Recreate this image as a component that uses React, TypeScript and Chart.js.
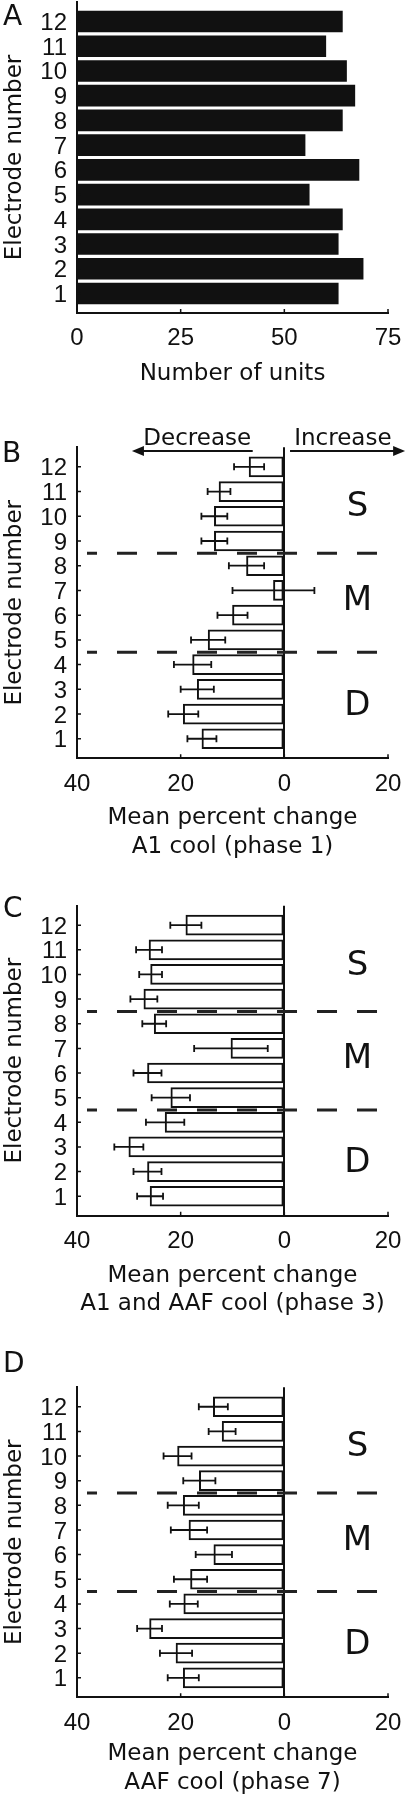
import React, { useEffect, useRef } from "react";
import { Chart, registerables } from "chart.js";

Chart.register(...registerables);

// ---------- data ----------
const electrodes = [1, 2, 3, 4, 5, 6, 7, 8, 9, 10, 11, 12];
const unitCounts = [63, 69, 63, 64, 56, 68, 55, 64, 67, 65, 60, 64];

const a1CoolChange = [-15.9, -19.5, -16.8, -17.7, -14.7, -10.0, -2.1, -7.3, -13.5, -13.5, -12.6, -6.8];
const a1CoolError = [2.8, 2.9, 3.2, 3.6, 3.3, 2.9, 7.9, 3.4, 2.5, 2.5, 2.2, 2.9];

const a1AafCoolChange = [-25.9, -26.4, -30.0, -23.0, -21.9, -26.4, -10.3, -25.1, -27.1, -25.8, -26.1, -19.0];
const a1AafCoolError = [2.5, 2.7, 2.8, 3.7, 3.7, 2.7, 7.1, 2.3, 2.6, 2.2, 2.5, 3.0];

const aafCoolChange = [-19.5, -20.9, -26.0, -19.4, -18.1, -13.6, -18.4, -19.5, -16.4, -20.6, -12.0, -13.7];
const aafCoolError = [3.0, 3.1, 2.4, 2.7, 3.2, 3.5, 3.5, 3.0, 3.1, 2.7, 2.6, 2.8];

const unitTicks = [0, 25, 50, 75];
const changeTicks = [-40, -20, 0, 20];
const regionBoundaries = [4.5, 8.5];
const regionLabels = ["D", "M", "S"];
const regionCenters = [2.47, 6.71, 10.5];
const regionLabelX = 14.1;
const decreaseArrow = [-6.1, -29.4];
const increaseArrow = [1.1, 23.3];
const decreaseTextX = -16.8;
const increaseTextX = 11.3;

// ---------- styles ----------
const INK = "#111";
const TICK_FAMILY = "'Liberation Sans', Arial, Helvetica, sans-serif";
const TITLE_FAMILY = "'DejaVu Sans', sans-serif";
const TICK_FONT = { family: TICK_FAMILY, size: 24 };
const TITLE_FONT = { family: TITLE_FAMILY, size: 23, lineHeight: 1.25 };
const YTITLE_FONT = { family: TITLE_FAMILY, size: 23, lineHeight: 1.2 };

type PanelDef = {
  letter: string;
  top: number;
  height: number;
  padTop: number;
  padBottom: number;
  xHeight: number;
  letterX: number;
  letterDy: number;
  values: number[];
  errors?: number[];
  xTicks: number[];
  title: string | string[];
  change: boolean;
  arrows?: boolean;
};

const panels: PanelDef[] = [
  {
    letter: "A", top: 0, height: 400, padTop: 2, padBottom: 11.4, xHeight: 75.6,
    letterX: 3, letterDy: 23, values: unitCounts, xTicks: unitTicks,
    title: "Number of units", change: false,
  },
  {
    letter: "B", top: 400, height: 470, padTop: 47.3, padBottom: 8.6, xHeight: 103.1,
    letterX: 2, letterDy: 14.4, values: a1CoolChange, errors: a1CoolError, xTicks: changeTicks,
    title: ["Mean percent change", "A1 cool (phase 1)"], change: true, arrows: true,
  },
  {
    letter: "C", top: 860, height: 470, padTop: 45.7, padBottom: 11.1, xHeight: 103.2,
    letterX: 3, letterDy: 11, values: a1AafCoolChange, errors: a1AafCoolError, xTicks: changeTicks,
    title: ["Mean percent change", "A1 and AAF cool (phase 3)"], change: true,
  },
  {
    letter: "D", top: 1320, height: 480, padTop: 67.3, padBottom: 2.7, xHeight: 100,
    letterX: 3, letterDy: -15.6, values: aafCoolChange, errors: aafCoolError, xTicks: changeTicks,
    title: ["Mean percent change", "AAF cool (phase 7)"], change: true,
  },
];

function annotationPlugin(def: PanelDef) {
  return {
    id: "annot" + def.letter,
    afterDatasetsDraw(chart: any) {
      const { ctx, chartArea: ca } = chart;
      const xs = chart.scales.x;
      const ys = chart.scales.y;
      ctx.save();
      ctx.strokeStyle = INK;
      ctx.fillStyle = INK;
      ctx.lineCap = "butt";

      // inward tick marks
      ctx.lineWidth = 1.5;
      ctx.beginPath();
      xs.ticks.forEach((t: any) => {
        const px = xs.getPixelForValue(t.value);
        ctx.moveTo(px, ca.bottom);
        ctx.lineTo(px, ca.bottom - 4);
      });
      ys.ticks.forEach((t: any) => {
        const py = ys.getPixelForValue(t.value);
        ctx.moveTo(ca.left, py);
        ctx.lineTo(ca.left + 4, py);
      });
      ctx.stroke();

      if (def.errors) {
        const errs = def.errors;
        ctx.lineWidth = 1.8;
        ctx.beginPath();
        electrodes.forEach((e, i) => {
          const py = ys.getPixelForValue(e);
          const x1 = xs.getPixelForValue(def.values[i] - errs[i]);
          const x2 = xs.getPixelForValue(def.values[i] + errs[i]);
          ctx.moveTo(x1, py);
          ctx.lineTo(x2, py);
          ctx.moveTo(x1, py - 3.5);
          ctx.lineTo(x1, py + 3.5);
          ctx.moveTo(x2, py - 3.5);
          ctx.lineTo(x2, py + 3.5);
        });
        ctx.stroke();

        // region boundaries
        ctx.lineWidth = 3;
        ctx.strokeStyle = "#222";
        ctx.setLineDash([20, 20]);
        ctx.lineDashOffset = 10;
        regionBoundaries.forEach((b) => {
          const py = ys.getPixelForValue(b);
          ctx.beginPath();
          ctx.moveTo(ca.left + 10, py);
          ctx.lineTo(ca.right - 10, py);
          ctx.stroke();
        });
        ctx.setLineDash([]);
        ctx.strokeStyle = INK;

        // region labels (alphabetic baseline = visual centre + half cap height)
        ctx.font = `34px ${TITLE_FAMILY}`;
        ctx.textAlign = "center";
        ctx.textBaseline = "alphabetic";
        regionLabels.forEach((l, i) => {
          ctx.fillText(l, xs.getPixelForValue(regionLabelX), ys.getPixelForValue(regionCenters[i]) + 12.4);
        });
      }

      if (def.arrows) {
        const ay = ca.top + 3.7;
        const drawArrow = (fromV: number, toV: number) => {
          const x0 = xs.getPixelForValue(fromV);
          const x1 = xs.getPixelForValue(toV);
          const dir = Math.sign(x1 - x0);
          ctx.lineWidth = 2;
          ctx.beginPath();
          ctx.moveTo(x0, ay);
          ctx.lineTo(x1 - dir * 10, ay);
          ctx.stroke();
          ctx.beginPath();
          ctx.moveTo(x1, ay);
          ctx.lineTo(x1 - dir * 12, ay - 5);
          ctx.lineTo(x1 - dir * 12, ay + 5);
          ctx.closePath();
          ctx.fill();
        };
        drawArrow(decreaseArrow[0], decreaseArrow[1]);
        drawArrow(increaseArrow[0], increaseArrow[1]);
        ctx.font = `23px ${TITLE_FAMILY}`;
        ctx.textAlign = "center";
        ctx.textBaseline = "alphabetic";
        ctx.fillText("Decrease", xs.getPixelForValue(decreaseTextX), ca.top - 2.3);
        ctx.fillText("Increase", xs.getPixelForValue(increaseTextX), ca.top - 2.3);
      }

      // panel letter
      ctx.font = `28px ${TITLE_FAMILY}`;
      ctx.textAlign = "left";
      ctx.textBaseline = "alphabetic";
      ctx.fillText(def.letter, def.letterX, ca.top + def.letterDy);
      ctx.restore();
    },
  };
}

function makeConfig(def: PanelDef): any {
  const data = electrodes.map((e, i) => ({ x: def.values[i], y: e }));
  return {
    type: "bar",
    data: {
      datasets: [
        {
          data,
          backgroundColor: def.change ? "#ffffff" : INK,
          borderColor: INK,
          borderWidth: def.change ? 2 : 0,
          borderSkipped: false,
          barThickness: def.change ? 20 : 21,
        },
      ],
    },
    options: {
      indexAxis: "y",
      responsive: false,
      animation: false,
      events: [],
      layout: { padding: { left: 0, right: 19, top: def.padTop, bottom: def.padBottom } },
      plugins: { legend: { display: false }, tooltip: { enabled: false }, title: { display: false } },
      scales: {
        x: {
          type: "linear",
          position: "bottom",
          offset: false,
          min: def.xTicks[0],
          max: def.xTicks[def.xTicks.length - 1],
          afterBuildTicks: (s: any) => {
            s.ticks = def.xTicks.map((v) => ({ value: v }));
          },
          afterFit: (s: any) => {
            s.height = def.xHeight;
            s.paddingLeft = 0;
            s.paddingRight = 0;
            s.paddingTop = 0;
            s.paddingBottom = 0;
          },
          ticks: {
            font: TICK_FONT,
            color: INK,
            padding: 11.2,
            autoSkip: false,
            maxRotation: 0,
            callback: (v: number) => String(Math.abs(v)),
          },
          grid: def.change
            ? {
                display: true,
                offset: false,
                drawTicks: false,
                drawOnChartArea: true,
                lineWidth: 2,
                color: (c: any) => (c.tick && c.tick.value === 0 ? INK : "rgba(0,0,0,0)"),
              }
            : { display: false, drawTicks: false, offset: false },
          border: { display: true, color: INK, width: 2 },
          title: { display: true, text: def.title, font: TITLE_FONT, color: INK, padding: 0 },
        },
        y: {
          type: "linear",
          position: "left",
          offset: false,
          min: 0.21,
          max: 12.79,
          afterBuildTicks: (s: any) => {
            s.ticks = electrodes.map((v) => ({ value: v }));
          },
          afterFit: (s: any) => {
            s.width = 77;
            s.paddingLeft = 0;
            s.paddingRight = 0;
            s.paddingTop = 0;
            s.paddingBottom = 0;
          },
          ticks: {
            font: TICK_FONT,
            color: INK,
            padding: 10,
            labelOffset: 1.9,
            autoSkip: false,
            callback: (v: number) => String(v),
          },
          grid: { display: false, drawTicks: false, offset: false },
          border: { display: true, color: INK, width: 2 },
          title: {
            display: true,
            text: "Electrode number",
            font: YTITLE_FONT,
            color: INK,
            padding: { top: 1.2, bottom: 0 },
          },
        },
      },
    },
    plugins: [annotationPlugin(def)],
  };
}

function ChartPanel({ def }: { def: PanelDef }) {
  const ref = useRef<HTMLCanvasElement>(null);
  useEffect(() => {
    if (!ref.current) return;
    const chart = new Chart(ref.current, makeConfig(def));
    return () => chart.destroy();
  }, [def]);
  return (
    <canvas
      ref={ref}
      width={407}
      height={def.height}
      style={{ position: "absolute", left: 0, top: def.top, width: 407, height: def.height, display: "block" }}
    />
  );
}

export default function App() {
  return (
    <div style={{ position: "absolute", left: 0, top: 0, width: 407, height: 1800, background: "#ffffff" }}>
      {panels.map((p) => (
        <ChartPanel key={p.letter} def={p} />
      ))}
    </div>
  );
}
